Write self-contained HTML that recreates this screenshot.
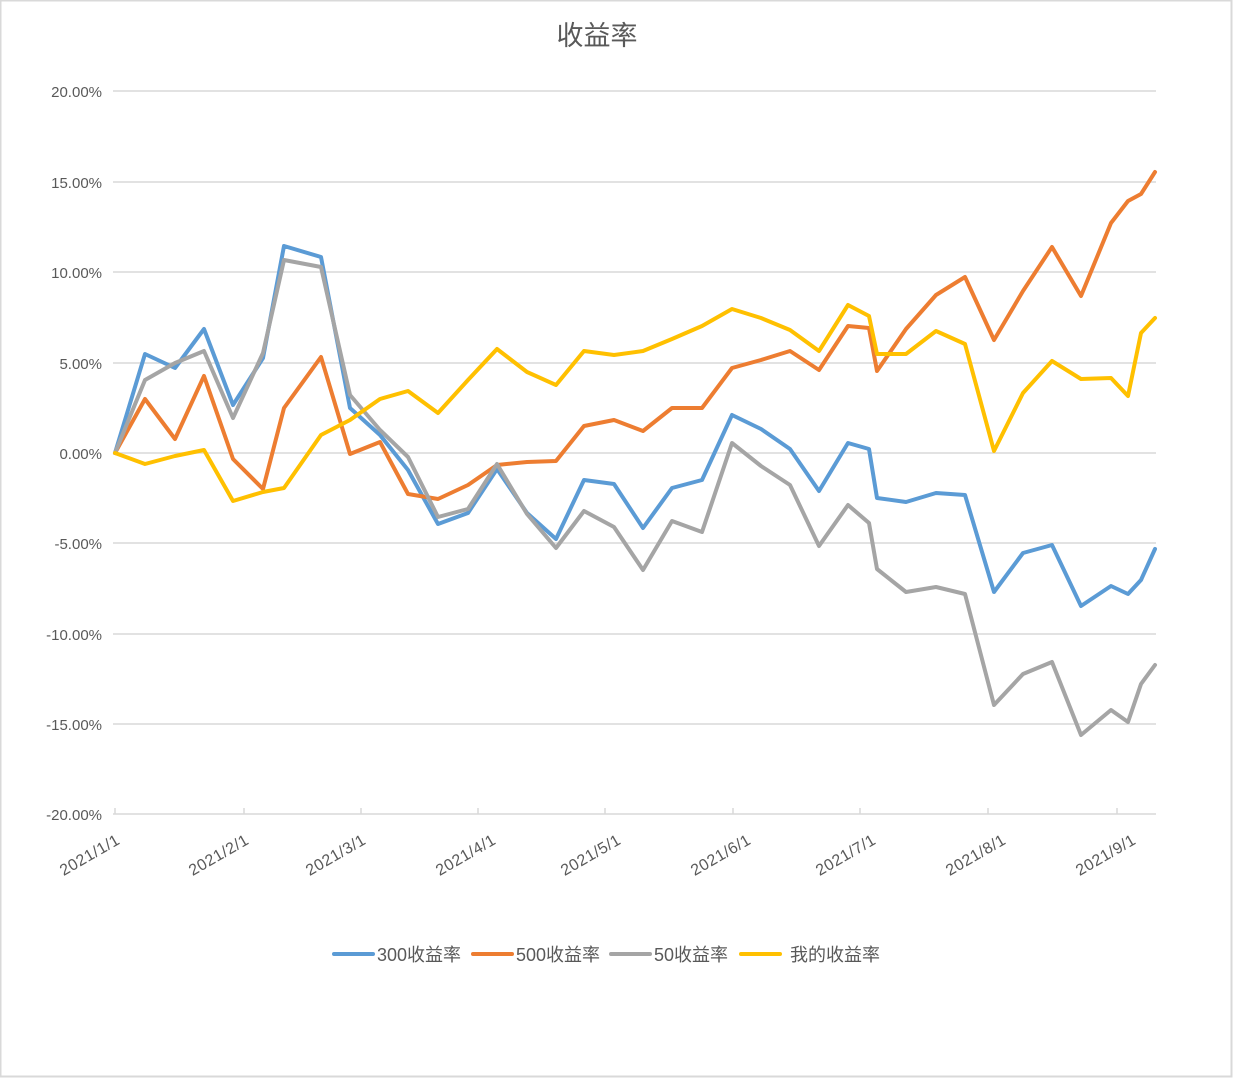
<!DOCTYPE html>
<html><head><meta charset="utf-8"><style>
html,body{margin:0;padding:0;background:#fff;}
svg{display:block;font-family:"Liberation Sans","Noto Sans CJK SC",sans-serif;}
</style></head><body>
<svg width="1233" height="1078" viewBox="0 0 1233 1078" xmlns="http://www.w3.org/2000/svg">
<rect x="0.5" y="0.5" width="1231" height="1076" fill="#fff" stroke="#d9d9d9" stroke-width="2"/>
<text x="597" y="45" text-anchor="middle" font-size="27" fill="#595959">收益率</text>
<g stroke="#d9d9d9" stroke-width="1.5">
<line x1="113" x2="1156" y1="91" y2="91"/>
<line x1="113" x2="1156" y1="182" y2="182"/>
<line x1="113" x2="1156" y1="272" y2="272"/>
<line x1="113" x2="1156" y1="363" y2="363"/>
<line x1="113" x2="1156" y1="453" y2="453"/>
<line x1="113" x2="1156" y1="543" y2="543"/>
<line x1="113" x2="1156" y1="634" y2="634"/>
<line x1="113" x2="1156" y1="724" y2="724"/>
<line x1="113" x2="1156" y1="814" y2="814"/>
<line x1="115" x2="115" y1="808" y2="814"/><line x1="244" x2="244" y1="808" y2="814"/><line x1="361" x2="361" y1="808" y2="814"/><line x1="478" x2="478" y1="808" y2="814"/><line x1="605" x2="605" y1="808" y2="814"/><line x1="733" x2="733" y1="808" y2="814"/><line x1="860" x2="860" y1="808" y2="814"/><line x1="988" x2="988" y1="808" y2="814"/><line x1="1117" x2="1117" y1="808" y2="814"/>
</g>
<g font-size="15" fill="#595959" text-anchor="end">
<text x="102" y="97">20.00%</text><text x="102" y="188">15.00%</text><text x="102" y="278">10.00%</text><text x="102" y="369">5.00%</text><text x="102" y="459">0.00%</text><text x="102" y="549">-5.00%</text><text x="102" y="640">-10.00%</text><text x="102" y="730">-15.00%</text><text x="102" y="820">-20.00%</text>
</g>
<g font-size="16" fill="#595959" text-anchor="end" letter-spacing="0.5">
<text transform="translate(121,843) rotate(-30)">2021/1/1</text>
<text transform="translate(250,843) rotate(-30)">2021/2/1</text>
<text transform="translate(367,843) rotate(-30)">2021/3/1</text>
<text transform="translate(497,843) rotate(-30)">2021/4/1</text>
<text transform="translate(622,843) rotate(-30)">2021/5/1</text>
<text transform="translate(752,843) rotate(-30)">2021/6/1</text>
<text transform="translate(877,843) rotate(-30)">2021/7/1</text>
<text transform="translate(1007,843) rotate(-30)">2021/8/1</text>
<text transform="translate(1137,843) rotate(-30)">2021/9/1</text>
</g>
<g fill="none" stroke-width="4" stroke-linejoin="round" stroke-linecap="round">
<polyline stroke="#5b9bd5" points="115,453 145,354 175,368 204,329 233,405 263,358 284,246 321,257 350,408 380,435 408,470 438,524 468,513 497,469 527,513 556,539 584,480 614,484 643,528 672,488 702,480 732,415 761,429 790,449 819,491 848,443 869,449 877,498 906,502 936,493 965,495 994,592 1023,553 1052,545 1081,606 1111,586 1128,594 1141,580 1155,549"/>
<polyline stroke="#ed7d31" points="115,453 145,399 175,439 204,376 233,459 263,489 284,408 321,357 350,454 380,442 408,494 438,499 468,485 497,465 527,462 556,461 584,426 614,420 643,431 672,408 702,408 732,368 761,360 790,351 819,370 848,326 869,328 877,371 906,329 936,295 965,277 994,340 1023,291 1052,247 1081,296 1111,223 1128,201 1141,194 1155,172"/>
<polyline stroke="#a5a5a5" points="115,453 145,380 175,363 204,351 233,418 263,353 284,260 321,267 350,395 380,430 408,457 438,517 468,509 497,464 527,514 556,548 584,511 614,527 643,570 672,521 702,532 732,443 761,466 790,485 819,546 848,505 869,523 877,569 906,592 936,587 965,594 994,705 1023,674 1052,662 1081,735 1111,710 1128,722 1141,684 1155,665"/>
<polyline stroke="#ffc000" points="115,453 145,464 175,456 204,450 233,501 263,492 284,488 321,435 350,420 380,399 408,391 438,413 468,380 497,349 527,372 556,385 584,351 614,355 643,351 672,339 702,326 732,309 761,318 790,330 819,351 848,305 869,316 877,354 906,354 936,331 965,344 994,451 1023,393 1052,361 1081,379 1111,378 1128,396 1141,333 1155,318"/>
</g>
<g stroke-width="4" stroke-linecap="round">
<line x1="334" x2="373" y1="954" y2="954" stroke="#5b9bd5"/>
<line x1="473" x2="512" y1="954" y2="954" stroke="#ed7d31"/>
<line x1="611" x2="650" y1="954" y2="954" stroke="#a5a5a5"/>
<line x1="741" x2="780" y1="954" y2="954" stroke="#ffc000"/>
</g>
<g font-size="18" fill="#595959">
<text x="377" y="961">300收益率</text>
<text x="516" y="961">500收益率</text>
<text x="654" y="961">50收益率</text>
<text x="790" y="961">我的收益率</text>
</g>
</svg>
</body></html>
